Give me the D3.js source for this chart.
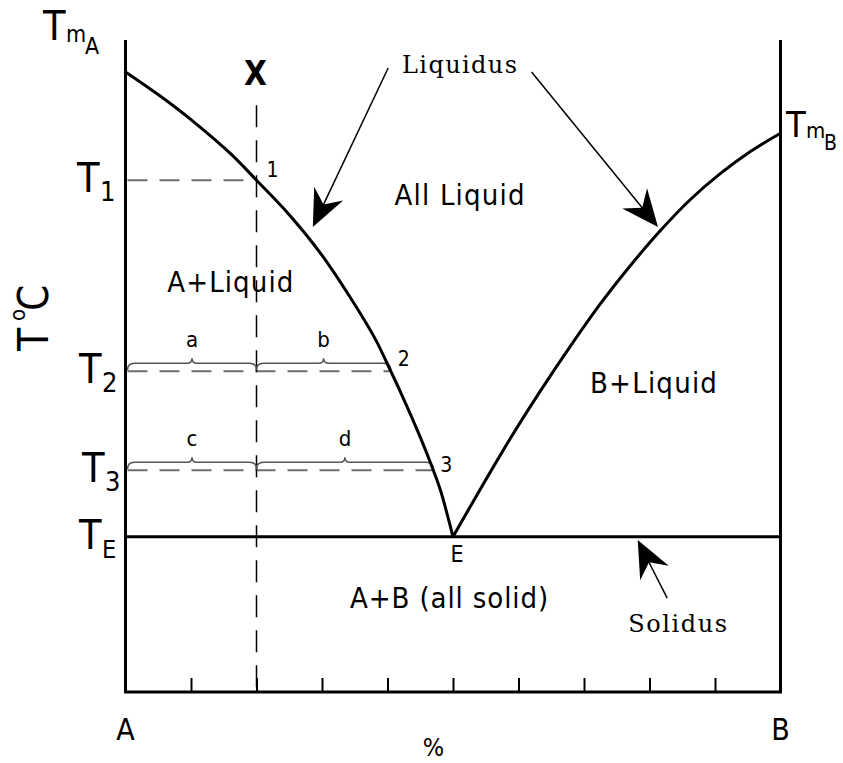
<!DOCTYPE html>
<html>
<head>
<meta charset="utf-8">
<title>Eutectic phase diagram</title>
<script src="https://cdn.jsdelivr.net/npm/d3@7"></script>
<style>
  body { margin: 0; background: #fff; }
  svg { display: block; background: #fff; }
  .frame, .curve, .solidus { fill: none; stroke: #000; stroke-width: 3; }
  .tie { fill: none; stroke: #6e6e6e; stroke-width: 2; stroke-dasharray: 20 12; }
  .alloy { fill: none; stroke: #000; stroke-width: 1.5; stroke-dasharray: 22 13; }
  .brace { fill: none; stroke: #555; stroke-width: 1.5; }
  .pointer { stroke: #000; stroke-width: 1.5; }
  .head { fill: #000; }
  text { font-family: "DejaVu Sans Condensed", "DejaVu Sans", sans-serif; fill: #000; }
  text.serif { font-family: "DejaVu Serif", serif; }
</style>
</head>
<body>
<script>
// composition runs 0..100 (% B), temperature 0..100 (bottom..top of frame)
var compTicks = [10, 20, 30, 40, 50, 60, 70, 80, 90];

var leftLiqComp = [0, 5.3, 10.6, 16.0, 20, 25.1, 29.7, 34.2, 38.1, 40.5, 41.9, 45.0, 47.0, 48.1, 50];
var leftLiqTemp = [95.1, 91.4, 87.3, 82.6, 78.5, 73.1, 67.4, 60.7, 54.2, 49.2, 46.2, 39.1, 34.0, 30.9, 23.8];

var rightLiqComp = [50, 54.1, 58.7, 63.3, 67.9, 72.4, 77.0, 81.6, 86.2, 90.8, 95.4, 100];
var rightLiqTemp = [23.8, 31.0, 38.8, 46.1, 53.0, 59.4, 65.3, 70.7, 75.5, 79.5, 82.9, 85.7];

var eutecticComp = 50, eutecticTemp = 23.8;
var alloyComp = 20;

// cooling levels T1..T3 and where the tie line meets the liquidus
var levelNames = ["1", "2", "3"];
var levelTemps = [78.5, 49.2, 34.0];
var levelLiqComp = [20, 40.5, 47.0];

// brace labels for the lever rule at T2 and T3
var braceLevels = [1, 2];
var braceLabels = [["a", "b"], ["c", "d"]];

var width = 843, height = 763;

var x = d3.scaleLinear().domain([0, 100]).range([125.5, 780.5]);
var y = d3.scaleLinear().domain([0, 100]).range([692, 40]);

var svg = d3.select("body").append("svg")
    .attr("width", width)
    .attr("height", height);

// ticks along the composition axis
var tickG = svg.append("g")
    .attr("transform", "translate(0," + y(0) + ")")
    .call(d3.axisBottom(x).tickValues(compTicks).tickSize(-14).tickFormat(""));
tickG.select(".domain").remove();
tickG.selectAll(".tick line").attr("stroke", "#000").attr("stroke-width", 2);

// dashed tie lines back to the temperature axis
svg.selectAll("line.tie")
    .data(levelTemps)
    .enter().append("line")
    .attr("class", "tie")
    .attr("x1", x(0) + 2)
    .attr("x2", function (d, i) { return x(levelLiqComp[i]); })
    .attr("y1", function (d) { return y(d); })
    .attr("y2", function (d) { return y(d); });

// vertical alloy line X
svg.append("line")
    .attr("class", "alloy")
    .attr("x1", x(alloyComp)).attr("x2", x(alloyComp))
    .attr("y1", y(90)).attr("y2", y(0));

// braces
function bracePath(x0, x1, yy) {
    var d = 7, c = 5, xm = (x0 + x1) / 2;
    var p = d3.path();
    p.moveTo(x0, yy + d);
    p.quadraticCurveTo(x0, yy, x0 + d, yy);
    p.lineTo(xm - c, yy);
    p.quadraticCurveTo(xm, yy, xm, yy - c);
    p.quadraticCurveTo(xm, yy, xm + c, yy);
    p.lineTo(x1 - d, yy);
    p.quadraticCurveTo(x1, yy, x1, yy + d);
    return p.toString();
}

braceLevels.forEach(function (li, k) {
    var yy = y(levelTemps[li]) - 8;
    var spans = [[0, alloyComp], [alloyComp, levelLiqComp[li]]];
    spans.forEach(function (s, j) {
        var x0 = x(s[0]) + (j === 0 ? 2 : 0);
        var x1 = x(s[1]);
        svg.append("path")
            .attr("class", "brace")
            .attr("d", bracePath(x0, x1, yy));
        svg.append("text")
            .attr("x", (x0 + x1) / 2)
            .attr("y", yy - 16)
            .attr("text-anchor", "middle")
            .attr("font-size", 22)
            .text(braceLabels[k][j]);
    });
});

// frame
var frame = d3.path();
frame.moveTo(x(0), y(100));
frame.lineTo(x(0), y(0));
frame.lineTo(x(100), y(0));
frame.lineTo(x(100), y(100));
svg.append("path").attr("class", "frame").attr("d", frame.toString());

// solidus
svg.append("line")
    .attr("class", "solidus")
    .attr("x1", x(0)).attr("x2", x(100))
    .attr("y1", y(eutecticTemp)).attr("y2", y(eutecticTemp));

// liquidus curves
var liq = d3.line()
    .x(function (d) { return x(d[0]); })
    .y(function (d) { return y(d[1]); })
    .curve(d3.curveCatmullRom.alpha(0.5));

svg.append("path").attr("class", "curve")
    .attr("d", liq(d3.zip(leftLiqComp, leftLiqTemp)));
svg.append("path").attr("class", "curve")
    .attr("d", liq(d3.zip(rightLiqComp, rightLiqTemp)));

// pointer arrows
function arrow(from, to) {
    var x0 = x(from[0]), y0 = y(from[1]), x1 = x(to[0]), y1 = y(to[1]);
    var ang = Math.atan2(y1 - y0, x1 - x0) * 180 / Math.PI;
    svg.append("line").attr("class", "pointer")
        .attr("x1", x0).attr("y1", y0)
        .attr("x2", x1 - (x1 - x0) * 0.08).attr("y2", y1 - (y1 - y0) * 0.08);
    svg.append("path").attr("class", "head")
        .attr("d", "M0,0L-37,-16L-25,0L-37,16Z")
        .attr("transform", "translate(" + x1 + "," + y1 + ") rotate(" + ang + ")");
}
arrow([40.1, 95.7], [28.6, 71.3]);
arrow([62.0, 95.1], [81.3, 71.3]);
arrow([82.7, 14.4], [78.2, 23.3]);

// region labels
function label(txt, cx, ct, size, len, cls) {
    var t = svg.append("text")
        .attr("x", x(cx)).attr("y", y(ct))
        .attr("text-anchor", "middle")
        .attr("font-size", size)
        .attr("textLength", len)
        .attr("lengthAdjust", "spacing")
        .text(txt);
    if (cls) t.attr("class", cls);
    return t;
}
label("All Liquid", 51.0, 74.7, 29, 130);
label("A+Liquid", 16.0, 61.3, 29, 126);
label("B+Liquid", 80.6, 45.9, 29, 127);
label("A+B (all solid)", 49.4, 12.9, 29, 198);
label("Liquidus", 51.0, 94.9, 24, 115, "serif");
label("Solidus", 84.3, 9.2, 24, 99, "serif");

// point numbers on the liquidus
var numOffsets = [[10, -3], [7, -5], [7, 2]];
levelNames.forEach(function (n, i) {
    svg.append("text")
        .attr("x", x(levelLiqComp[i]) + numOffsets[i][0])
        .attr("y", y(levelTemps[i]) + numOffsets[i][1])
        .attr("font-size", 21)
        .text(n);
});

svg.append("text")
    .attr("x", x(eutecticComp) + 4).attr("y", y(eutecticTemp) + 25)
    .attr("text-anchor", "middle").attr("font-size", 23)
    .text("E");

svg.append("text")
    .attr("x", x(alloyComp) - 1).attr("y", 85)
    .attr("text-anchor", "middle").attr("font-size", 33).attr("font-weight", "bold")
    .text("X");

// temperature labels on the left axis
function tLabel(sub, t, xx, subSize) {
    var g = svg.append("text").attr("font-size", 41);
    g.append("tspan").attr("x", xx).attr("y", y(t) + 12).text("T");
    g.append("tspan").attr("x", xx + 23).attr("y", y(t) + 21)
        .attr("font-size", subSize).text(sub);
}
levelNames.forEach(function (n, i) {
    tLabel(n, levelTemps[i], [77, 79, 82][i], 27);
});
tLabel("E", eutecticTemp, 79, 25);

// melting points
var tma = svg.append("text").attr("font-size", 41);
tma.append("tspan").attr("x", 43).attr("y", 40).text("T");
tma.append("tspan").attr("x", 66).attr("y", 42).attr("font-size", 23).text("m");
tma.append("tspan").attr("x", 85).attr("y", 54).attr("font-size", 23).text("A");

var tmbY = y(rightLiqTemp[rightLiqTemp.length - 1]);
var tmb = svg.append("text").attr("font-size", 36);
tmb.append("tspan").attr("x", 786).attr("y", tmbY + 4).text("T");
tmb.append("tspan").attr("x", 806).attr("y", tmbY + 5).attr("font-size", 22).text("m");
tmb.append("tspan").attr("x", 824).attr("y", tmbY + 17).attr("font-size", 21).text("B");

// axis titles
var yt = svg.append("text")
    .attr("transform", "translate(48,351) rotate(-90)")
    .attr("font-size", 42);
yt.append("tspan").attr("x", 0).attr("y", 0).text("T");
yt.append("tspan").attr("x", 30).attr("y", -23).attr("font-size", 22).text("o");
yt.append("tspan").attr("x", 40).attr("y", 0).text("C");

svg.append("text").attr("x", x(0)).attr("y", 740)
    .attr("text-anchor", "middle").attr("font-size", 30).text("A");
svg.append("text").attr("x", x(100)).attr("y", 740)
    .attr("text-anchor", "middle").attr("font-size", 30).text("B");
svg.append("text").attr("x", x(47)).attr("y", 756)
    .attr("text-anchor", "middle").attr("font-size", 25).text("%");
</script>
</body>
</html>
